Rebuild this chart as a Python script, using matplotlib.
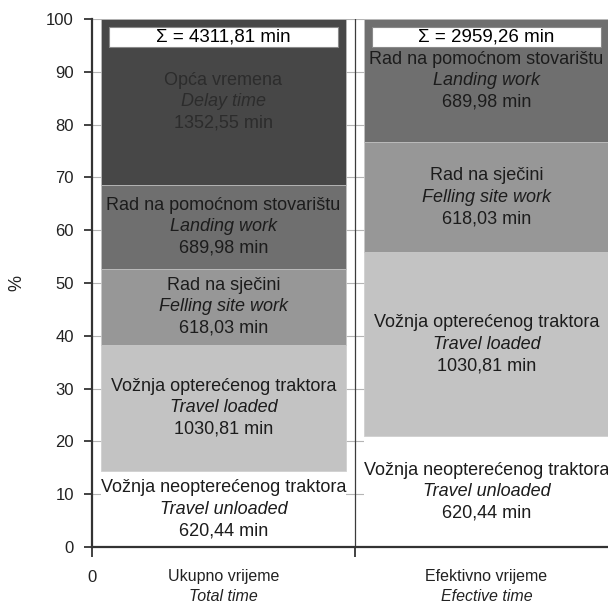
import matplotlib
matplotlib.use("Agg")
import matplotlib.pyplot as plt
from matplotlib.patches import Rectangle

plt.rcParams['font.family'] = ['Liberation Sans', 'DejaVu Sans']

# data (minutes)
groups_hr = ['Ukupno vrijeme', 'Efektivno vrijeme']
groups_en = ['Total time', 'Efective time']
names_hr = ['Vožnja neopterećenog traktora', 'Vožnja opterećenog traktora',
            'Rad na sječini', 'Rad na pomoćnom stovarištu', 'Opća vremena']
names_en = ['Travel unloaded', 'Travel loaded', 'Felling site work',
            'Landing work', 'Delay time']
total_time = [620.44, 1030.81, 618.03, 689.98, 1352.55]
effective_time = [620.44, 1030.81, 618.03, 689.98, 0.0]
totals_txt = ['Σ = 4311,81 min', 'Σ = 2959,26 min']

colors = ['white', '#c3c3c3', '#979797', '#6f6f6f', '#474747']
edges = ['none', '#d0d0d0', '#c8c8c8', '#c0c0c0', '#bbbbbb']
txt_colors = ['#1c1c1c', '#1c1c1c', '#1c1c1c', '#1c1c1c', '#2c2c2c']

fig = plt.figure(figsize=(6.08, 6.05), dpi=100)
ax = fig.add_axes([92 / 608, 58 / 605, 516 / 608, 528 / 605])

lh = 15.5  # line step in points
for i, vals in enumerate([total_time, effective_time]):
    tot = sum(vals)
    xc = i + 0.5
    bottom = 0.0
    for k, v in enumerate(vals):
        if v <= 0:
            continue
        h = v / tot * 100
        ax.bar(xc, h, bottom=bottom, width=0.93, color=colors[k],
               edgecolor=edges[k], linewidth=0.6, zorder=2)
        yc = bottom + h / 2
        lines = [(names_hr[k], 'normal'), (names_en[k], 'italic'),
                 (('%.2f' % v).replace('.', ',') + ' min', 'normal')]
        for j, (s, st) in enumerate(lines):
            ax.annotate(s, (xc, yc), xytext=(0, lh * (1 - j)), textcoords='offset points',
                        ha='center', va='center', fontsize=13, style=st,
                        color=txt_colors[k], zorder=4)
        bottom += h
    ax.add_patch(Rectangle((xc - 0.435, 94.7), 0.87, 3.8, facecolor='white',
                           edgecolor='#8a8a8a', linewidth=0.8, zorder=3))
    ax.text(xc, 96.6, totals_txt[i], ha='center', va='center', fontsize=13.5,
            color='black', zorder=4)

# grid and divider
for yv in range(10, 101, 10):
    ax.axhline(yv, color='#b5b5b5', linewidth=0.8, zorder=1)
ax.plot([1, 1], [0, 100], color='#3c3c3c', linewidth=0.9, zorder=1)

ax.set_xlim(0, 516 / 263)
ax.set_ylim(0, 100)
ax.set_yticks(range(0, 101, 10))
ax.tick_params(axis='y', direction='out', length=6, width=1.2, labelsize=12,
               colors='#222222', pad=7)

ax.set_xticks([0, 1])
ax.set_xticklabels(['0', ''])
ax.tick_params(axis='x', which='major', direction='out', length=7, width=1.2,
               labelsize=12, colors='#222222', pad=9.5)

# category labels (two lines)
for i in range(2):
    ax.annotate(groups_hr[i], (i + 0.5, 0), xytext=(0, -21), textcoords='offset points',
                ha='center', va='center', fontsize=11.5, color='#222222',
                annotation_clip=False)
    ax.annotate(groups_en[i], (i + 0.5, 0), xytext=(0, -35.5), textcoords='offset points',
                ha='center', va='center', fontsize=11.5, style='italic',
                color='#222222', annotation_clip=False)

for s in ['top', 'right']:
    ax.spines[s].set_visible(False)
for s in ['left', 'bottom']:
    ax.spines[s].set_color('#333333')
    ax.spines[s].set_linewidth(1.6)

fig.text(17 / 608, 1 - 283 / 605, '%', rotation=90, ha='center', va='center',
         fontsize=13, color='#222222')

fig.savefig('out.png', dpi=100)
